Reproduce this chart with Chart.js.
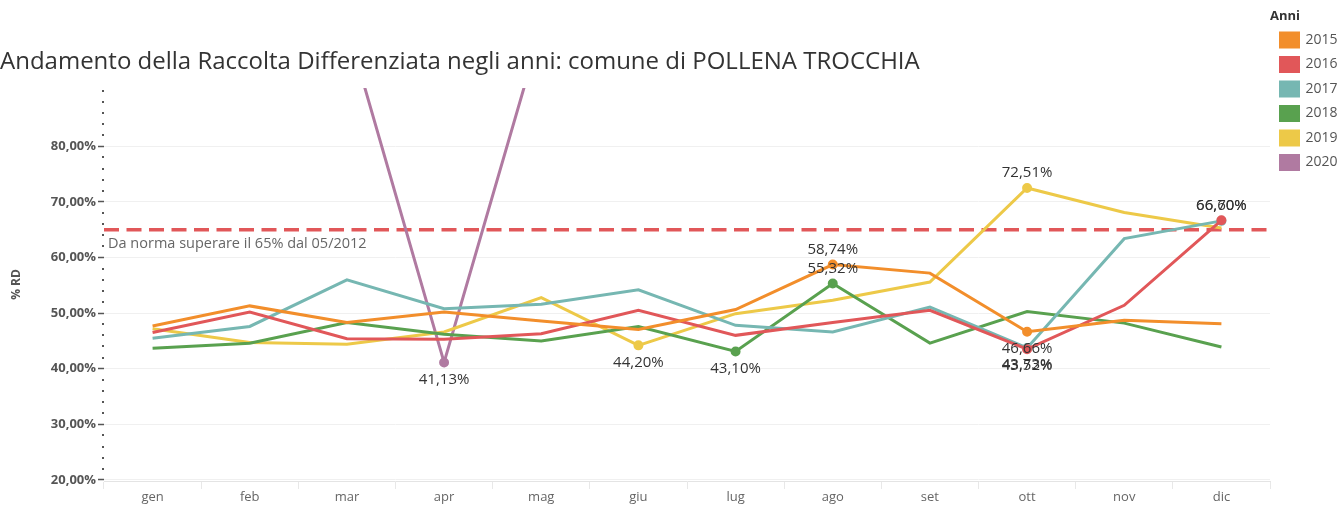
<!DOCTYPE html>
<html lang="it">
<head>
<meta charset="utf-8">
<title>Andamento della Raccolta Differenziata</title>
<script src="https://cdn.jsdelivr.net/npm/chart.js@4.4.1/dist/chart.umd.min.js"></script>
<style>
  html, body { margin: 0; padding: 0; background: #fff; }
  #wrap { position: relative; width: 1343px; height: 506px; }
</style>
</head>
<body>
<div id="wrap"><canvas id="chart"></canvas></div>
<script>
// % raccolta differenziata per mese
const months = ['gen', 'feb', 'mar', 'apr', 'mag', 'giu', 'lug', 'ago', 'set', 'ott', 'nov', 'dic'];
const years = ['2015', '2016', '2017', '2018', '2019', '2020'];

const rd2015 = [47.7, 51.3, 48.3, 50.2, 48.6, 47.05, 50.65, 58.74, 57.2, 46.66, 48.7, 48.1];
const rd2016 = [46.5, 50.2, 45.4, 45.3, 46.3, 50.5, 46.0, 48.3, 50.5, 43.52, 51.4, 66.70];
const rd2017 = [45.5, 47.6, 56.0, 50.8, 51.6, 54.2, 47.8, 46.6, 51.1, 43.73, 63.4, 66.60];
const rd2018 = [43.7, 44.6, 48.3, 46.2, 45.0, 47.6, 43.10, 55.32, 44.6, 50.3, 48.2, 43.9];
const rd2019 = [47.2, 44.7, 44.4, 46.6, 52.8, 44.20, 49.9, 52.3, 55.6, 72.51, 68.1, 65.3];
const rd2020 = [null, null, 101.7, 41.13, 101.2, null, null, null, null, null, null, null];

const yTicks = [20, 30, 40, 50, 60, 70, 80];
const threshold = 65;
const thresholdNote = 'Da norma superare il 65% dal 05/2012';

const series = [rd2015, rd2016, rd2017, rd2018, rd2019, rd2020];
const colors = ['#f28e2b', '#e15759', '#76b7b2', '#59a14f', '#edc948', '#b07aa1'];

const FONT = '"Open Sans", sans-serif';
Chart.defaults.font.family = FONT;

const fmt = v => v.toFixed(2).replace('.', ',') + '%';

// indice del minimo e del massimo di ogni serie (etichettati come in Tableau)
const extremes = series.map(vals => {
  const nums = vals.filter(v => v !== null);
  return { min: vals.indexOf(Math.min(...nums)), max: vals.indexOf(Math.max(...nums)) };
});

const refLine = {
  id: 'refLine',
  beforeDatasetsDraw(chart) {
    const { ctx, chartArea: a, scales: { y } } = chart;
    const py = y.getPixelForValue(threshold);
    ctx.save();
    ctx.strokeStyle = '#e15759';
    ctx.lineWidth = 3.5;
    ctx.setLineDash([15, 7.5]);
    ctx.beginPath();
    ctx.moveTo(a.left, py);
    ctx.lineTo(a.right, py);
    ctx.stroke();
    ctx.setLineDash([]);
    ctx.fillStyle = '#666';
    ctx.font = '14.5px ' + FONT;
    ctx.textBaseline = 'middle';
    ctx.fillText(thresholdNote, a.left + 4, py + 14);
    ctx.restore();
  }
};

// piccoli segni ogni 2% sull'asse y
const minorTicks = {
  id: 'minorTicks',
  afterDraw(chart) {
    const { ctx, chartArea: a, scales: { y } } = chart;
    ctx.save();
    ctx.fillStyle = '#555';
    for (let v = 20; v <= 90; v += 2) {
      if (v % 10 === 0 && v <= 80) continue;
      const py = y.getPixelForValue(v);
      ctx.fillRect(a.left - 2, Math.round(py) - 1, 2, 2);
    }
    ctx.restore();
  }
};

const valueLabels = {
  id: 'valueLabels',
  afterDatasetsDraw(chart) {
    const { ctx, chartArea: a } = chart;
    ctx.save();
    ctx.font = '15px ' + FONT;
    ctx.fillStyle = '#333';
    ctx.textAlign = 'center';
    ctx.textBaseline = 'middle';
    chart.data.datasets.forEach((ds, i) => {
      const pts = chart.getDatasetMeta(i).data;
      [['max', -15], ['min', 17]].forEach(([k, dy]) => {
        const idx = extremes[i][k];
        const p = pts[idx];
        if (!p || p.y < a.top || p.y > a.bottom) return;
        ctx.fillText(fmt(ds.data[idx]), p.x, p.y + dy);
      });
    });
    ctx.restore();
  }
};

new Chart(document.getElementById('chart'), {
  type: 'line',
  data: {
    labels: months,
    datasets: years.map((yr, i) => ({
      label: yr,
      data: series[i],
      borderColor: colors[i],
      backgroundColor: colors[i],
      borderWidth: 3,
      tension: 0,
      fill: false,
      spanGaps: false,
      pointRadius: c => (c.dataIndex === extremes[i].min || c.dataIndex === extremes[i].max) ? 3.5 : 0,
      pointHoverRadius: 0
    }))
  },
  options: {
    responsive: true,
    maintainAspectRatio: false,
    animation: false,
    layout: { padding: 0 },
    plugins: {
      title: {
        display: true,
        text: 'Andamento della Raccolta Differenziata negli anni: comune di POLLENA TROCCHIA',
        align: 'start',
        color: '#333',
        font: { size: 24, weight: 'normal', lineHeight: 1.2 },
        padding: { top: 48, bottom: 11.2 }
      },
      legend: {
        position: 'right',
        align: 'start',
        maxWidth: 73,
        title: {
          display: true,
          text: 'Anni',
          position: 'start',
          color: '#333',
          font: { size: 13, weight: 'bold', lineHeight: 1 },
          padding: { top: 9.5, bottom: 0 }
        },
        labels: {
          boxWidth: 18,
          boxHeight: 14,
          padding: 10.5,
          color: '#555',
          font: { size: 14 }
        }
      },
      tooltip: { enabled: false }
    },
    scales: {
      x: {
        offset: true,
        grid: { offset: true, drawOnChartArea: false, drawTicks: true, tickLength: 8, color: '#e8e8e8' },
        border: { color: '#e4e4e4' },
        ticks: { color: '#666', font: { size: 13 }, padding: 0, maxRotation: 0 },
        afterFit: s => { s.height = 25; }
      },
      y: {
        min: 19.8,
        max: 90.5,
        afterBuildTicks: s => { s.ticks = yTicks.map(v => ({ value: v })); },
        grid: { color: '#f0f0f0', tickColor: '#555', tickLength: 6, tickWidth: 1.5 },
        border: { display: false },
        ticks: { color: '#555', font: { size: 13, weight: 'bold' }, padding: 2, callback: v => fmt(v) },
        title: {
          display: true,
          text: '% RD',
          color: '#555',
          font: { size: 12, weight: 'bold' },
          padding: { top: 9, bottom: 4 }
        },
        afterFit: s => { s.width = 104; }
      }
    }
  },
  plugins: [refLine, minorTicks, valueLabels]
});
</script>
</body>
</html>
